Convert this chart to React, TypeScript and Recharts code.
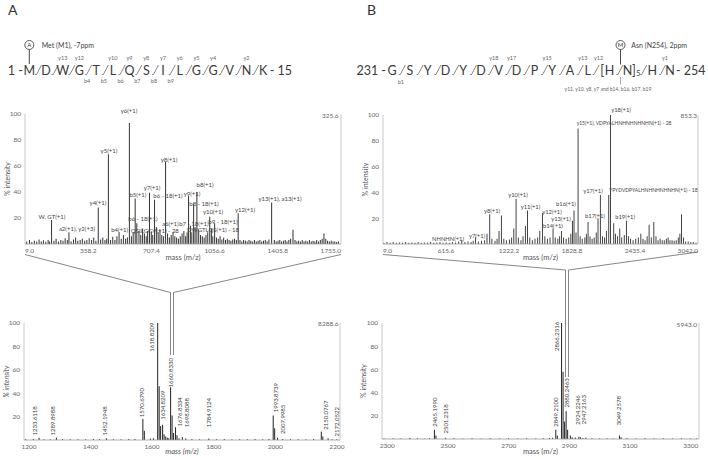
import React from "react";
import {
  ComposedChart,
  Bar,
  XAxis,
  YAxis,
  ReferenceLine,
  ReferenceDot,
} from "recharts";

type Pair = [number, number];
type Tag = [string, number, number];

// ---------- A : MS/MS of 1-MDWGTLQSILGGVNK-15 ----------
const TL_TICKS = [9.0, 358.2, 707.4, 1056.6, 1405.8, 1755.0];
const TL_PEAKS: Pair[] = [
  [157, 18.5], [253, 9], [415, 28], [471, 69], [530, 9], [587, 93],
  [619, 35], [628, 16], [698, 39.5], [726, 34], [787, 63], [914, 37],
  [942, 31], [960, 40], [1031, 21], [1058, 16], [1188, 23.6], [1373, 32],
  [1491, 11], [1662, 8],
];
const TL_NOISE: Pair[] = [
  [20, 2], [35, 3], [48, 1.5], [62, 2.5], [75, 2], [88, 3.5], [100, 2], [112, 2.8],
  [125, 1.8], [138, 3], [146, 2], [170, 2.5], [182, 4], [195, 2], [208, 3], [220, 2.5],
  [232, 4.5], [244, 3], [265, 2], [278, 3.5], [290, 5], [302, 2.5], [315, 3], [327, 4],
  [340, 2.5], [352, 3], [365, 4.5], [378, 3], [390, 5], [402, 2.5], [428, 3.5], [440, 5],
  [452, 3], [462, 4], [483, 3], [495, 5.5], [507, 3], [518, 6], [542, 4], [554, 7],
  [566, 4], [576, 5], [598, 6], [608, 9], [640, 10], [650, 7], [660, 12], [670, 8],
  [680, 6], [688, 10], [708, 9], [716, 7], [736, 13], [746, 9], [756, 11], [766, 7],
  [776, 6], [798, 8], [808, 5], [818, 7], [828, 9], [838, 6], [848, 5], [858, 4],
  [868, 6], [878, 8], [888, 10], [898, 6], [906, 9], [924, 14], [932, 9], [950, 13],
  [970, 11], [980, 7], [990, 6], [1000, 5], [1010, 7], [1020, 9], [1040, 12], [1048, 6],
  [1068, 5], [1078, 4], [1088, 6], [1098, 3.5], [1108, 5], [1118, 3], [1128, 4], [1138, 3],
  [1148, 2.5], [1158, 3.5], [1168, 4], [1178, 3], [1198, 3], [1208, 2], [1218, 3], [1228, 2.5],
  [1238, 2], [1248, 3], [1258, 2.5], [1268, 2], [1278, 3], [1288, 2], [1298, 2.5], [1308, 3],
  [1318, 2], [1328, 2.5], [1338, 3], [1348, 2], [1358, 3.5], [1388, 3], [1398, 2], [1408, 2.5],
  [1418, 3], [1428, 2], [1438, 2.5], [1448, 3], [1458, 2], [1468, 3], [1478, 4], [1502, 3],
  [1512, 2], [1522, 2.5], [1532, 2], [1542, 3], [1552, 2], [1562, 2.5], [1572, 2], [1582, 3],
  [1592, 2], [1602, 2.5], [1612, 2], [1622, 3], [1632, 2], [1642, 3], [1652, 4], [1672, 4],
  [1682, 2.5], [1692, 2], [1702, 2.5], [1712, 2], [1722, 2], [1732, 1.5], [1742, 2],
];
const TL_LABELS: Tag[] = [
  ["y6(+1)", 584, 102.5], ["y5(+1)", 473, 71.8], ["y8(+1)", 805, 64.6],
  ["y7(+1)", 711, 42.8], ["b5(+1)", 633, 37.7], ["b6 - 18(+1)", 799, 36.9],
  ["y9(+1)", 932, 38.5], ["y4(+1)", 412, 31.3], ["W, GT(+1)", 158, 21],
  ["a2(+1), y2(+3)", 296, 11.3], ["b4(+1)", 532, 10.8], ["b6 - 18(+1)", 661, 19.2],
  ["a6(+1)", 812, 15.4], ["b7 - 18(+1)", 942, 15.4], ["QSILGGV(+1) - 28", 727, 10],
  ["DWGTLQS(+1) - 18", 1048, 10.8], ["b8(+1)", 1004, 45.4], ["b8 - 18(+1)", 998, 30.8],
  ["y10(+1)", 1048, 24.4], ["b9 - 18(+1)", 1103, 17.2], ["y12(+1)", 1225, 26.2],
  ["y13(+1), a13(+1)", 1418, 34.6],
];

// ---------- B : MS/MS of 231-GSYDYDVDPYAL[HN]5HN-254 ----------
const TR_TICKS = [9.0, 615.6, 1222.2, 1828.8, 2435.4, 3042.0];
const TR_PEAKS: Pair[] = [
  [770, 3], [902, 5], [1013, 8], [1039, 23], [1129, 10], [1152, 22], [1271, 12],
  [1293, 35], [1383, 14], [1403, 26], [1521, 10], [1547, 24], [1649, 12], [1730, 10],
  [1836, 18], [1851, 26], [1890, 89.5], [1986, 17], [2082, 20], [2105, 38], [2163, 10],
  [2185, 38], [2202, 100], [2233, 16], [2291, 12], [2356, 18], [2494, 8], [2574, 15],
  [2619, 17], [2757, 5], [2886, 23],
];
const TR_NOISE: Pair[] = [
  [20, 1], [50, 1.5], [80, 1], [110, 1.5], [140, 1], [170, 1.2], [200, 1], [230, 1.5],
  [260, 1], [290, 1.2], [320, 1], [350, 1.5], [380, 1], [410, 1.2], [440, 1], [470, 1.5],
  [500, 1], [530, 1.2], [560, 1.5], [590, 1], [620, 1.2], [650, 1], [680, 1.5], [710, 1.2],
  [740, 2], [800, 1.5], [830, 2], [860, 1.5], [880, 2.5], [930, 2], [960, 2.5], [990, 3],
  [1060, 4], [1090, 2.5], [1110, 4], [1175, 4], [1200, 3], [1230, 3.5], [1250, 5], [1315, 5],
  [1340, 3], [1360, 6], [1425, 5], [1450, 3], [1475, 4], [1500, 5], [1570, 6], [1595, 4],
  [1620, 5], [1670, 5], [1695, 4], [1712, 6], [1750, 5], [1775, 4], [1800, 5], [1820, 8],
  [1870, 9], [1910, 6], [1930, 4], [1955, 5], [1970, 8], [2005, 6], [2025, 4], [2045, 5],
  [2065, 9], [2125, 6], [2145, 5], [2250, 8], [2270, 6], [2310, 5], [2335, 7], [2375, 6],
  [2395, 4], [2420, 3], [2445, 4], [2470, 5], [2515, 4], [2535, 3], [2555, 6], [2595, 5],
  [2640, 6], [2660, 3], [2680, 4], [2700, 3], [2720, 3], [2740, 4], [2775, 3], [2795, 3],
  [2815, 2.5], [2835, 3], [2855, 5], [2870, 8], [2905, 5], [2925, 2], [2950, 2], [2975, 1.5],
  [3000, 1.5], [3025, 1],
];
const TR_LABELS: Tag[] = [
  ["NHNHN(+1)", 635, 4.1], ["y7(+1)", 914, 6.4], ["y8(+1)", 1059, 25.8],
  ["y10(+1)", 1309, 37.7], ["y11(+1)", 1429, 28.7], ["y12(+1)", 1636, 24.8],
  ["y13(+1)", 1723, 19.4], ["b14(+1)", 1646, 14.2], ["b16(+1)", 1771, 31],
  ["y15(+1), VDPYALHNHNHNHNHN(+1) - 28", 2330, 93.8], ["y18(+1)", 2301, 104],
  ["y17(+1)", 2031, 40.8], ["YPYDVDPYALHNHNHNHNHN(+1) - 18", 2612, 41.3],
  ["b17(+1)", 2050, 21.4], ["b19(+1)", 2340, 20.6],
];

// ---------- MS survey spectra ----------
const BL_TICKS = [1200, 1400, 1600, 1800, 2000, 2200];
const BL_PEAKS: Pair[] = [
  [1233.6, 2], [1289.9, 2], [1452.2, 1.5], [1570.7, 18], [1575.5, 8], [1618.8, 100],
  [1623.6, 46], [1628.4, 12], [1634.8, 13], [1639.6, 5], [1660.8, 45], [1665.6, 21],
  [1670.4, 6], [1676.8, 11], [1681.6, 4], [1698.8, 2.5], [1784.9, 1.2], [1993.9, 21],
  [1998.7, 10], [2008.0, 2], [2150.1, 7], [2154.9, 3], [2172.1, 1.5],
];
const BL_NOISE: Pair[] = [
  [1190, 0.6], [1215, 0.8], [1250, 0.7], [1270, 0.6], [1310, 0.8], [1335, 0.6], [1360, 0.7],
  [1385, 0.6], [1410, 0.8], [1430, 0.6], [1475, 0.7], [1500, 0.6], [1525, 0.8], [1545, 0.9],
  [1595, 1.2], [1605, 1.5], [1645, 3], [1650, 2], [1655, 1.5], [1688, 1.5], [1710, 1.2],
  [1730, 0.9], [1755, 0.7], [1810, 0.6], [1835, 0.8], [1860, 0.6], [1885, 0.7], [1910, 0.6],
  [1935, 0.8], [1960, 0.7], [1980, 0.9], [2025, 0.8], [2050, 0.6], [2075, 0.7], [2100, 0.6],
  [2125, 0.8], [2185, 0.7], [2200, 0.6],
];
const BL_LABELS: Tag[] = [
  ["1233.6118", 1219.8, 16.4], ["1289.8988", 1277.3, 16.4], ["1452.1948", 1445.1, 16.4],
  ["1570.6790", 1566.8, 32], ["1618.8209", 1599.3, 88], ["1634.8209", 1633.8, 29.8],
  ["1660.8330", 1661.1, 57.5], ["1676.8334", 1691.3, 24.1], ["1698.8088", 1713.1, 23.4],
  ["1784.9124", 1785.6, 23.4], ["1993.8739", 2002.5, 36.2], ["2007.9985", 2024, 17.7],
  ["2150.0767", 2162.9, 21.3], ["2172.0522", 2198.6, 15.6],
];

const BR_TICKS = [2300, 2500, 2700, 2900, 3100, 3300];
const BR_PEAKS: Pair[] = [
  [2375, 0.8], [2456, 8], [2461, 3], [2493, 1], [2856, 8], [2861, 3], [2875, 100],
  [2880, 58], [2885, 15], [2890, 24], [2895, 8], [2904, 3], [2932, 2], [2937, 1.5],
  [2955, 1], [3066, 3], [3071, 1.5],
];
const BR_NOISE: Pair[] = [
  [2290, 0.5], [2320, 0.6], [2345, 0.5], [2400, 0.6], [2425, 0.5], [2440, 0.7], [2520, 0.6],
  [2550, 0.5], [2580, 0.6], [2610, 0.5], [2640, 0.6], [2670, 0.5], [2700, 0.6], [2730, 0.5],
  [2760, 0.6], [2790, 0.5], [2815, 0.7], [2835, 0.8], [2845, 1], [2910, 1.5], [2920, 1.2],
  [2945, 0.8], [2975, 0.6], [3000, 0.5], [3025, 0.6], [3045, 0.5], [3090, 0.6], [3120, 0.5],
  [3150, 0.6], [3180, 0.5], [3210, 0.6], [3240, 0.5], [3270, 0.6], [3300, 0.5], [3320, 0.5],
];
const BR_LABELS: Tag[] = [
  ["2465.1990", 2456.2, 23.1], ["2501.2318", 2494.4, 17.3], ["2849.2100", 2856, 23.1],
  ["2866.2316", 2860.3, 88.4], ["2880.2463", 2893.2, 39.7], ["2924.2246", 2927.5, 25],
  ["2947.2163", 2949.3, 25.3], ["3049.2578", 3064.6, 24.4],
];

// sequences
const SEQ_A = ["M", "D", "W", "G", "T", "L", "Q", "S", "I", "L", "G", "G", "V", "N", "K"];
const Y_IONS_A = [13, 12, 10, 9, 8, 7, 6, 5, 4, 2];
const B_IONS_A = [4, 5, 6, 7, 8, 9];
const SEQ_B = ["G", "S", "Y", "D", "Y", "D", "V", "D", "P", "Y", "A", "L", "H", "N", "H", "N"];
const Y_IONS_B = [18, 17, 15, 13, 12, 1];
const B_IONS_B = [1];

const FONT = "Lato, 'Open Sans', sans-serif";

function merge(...lists: Pair[][]) {
  return lists
    .flat()
    .map(([mz, i]) => ({ mz, i }))
    .sort((a, b) => a.mz - b.mz);
}

function AxisTick(props: any) {
  const { x, y, payload, first, last, digits } = props;
  const v = payload.value as number;
  const anchor = v === first ? "start" : v === last ? "end" : "middle";
  return (
    <text x={x} y={y} dy={4.5} textAnchor={anchor} fontSize={6.5} fill="#666">
      {v.toFixed(digits)}
    </text>
  );
}

interface SpectrumProps {
  left: number;
  top: number;
  width: number;
  height: number;
  margin: { top: number; right: number; bottom: number; left: number };
  xHeight: number;
  domain: [number, number];
  ticks: number[];
  digits: number;
  edge: boolean;
  peaks: Pair[];
  noise: Pair[];
  labels: Tag[];
  labelSize: number;
  vertical?: boolean;
  italic?: boolean;
  yLabelOffset: number;
  xLabelOffset: number;
  color: string;
}

function Spectrum(p: SpectrumProps) {
  const data = merge(p.peaks, p.noise);
  const first = p.edge ? p.ticks[0] : NaN;
  const last = p.edge ? p.ticks[p.ticks.length - 1] : NaN;
  const italic = p.italic ? "italic" : "normal";
  return (
    <div style={{ position: "absolute", left: p.left, top: p.top }}>
      <ComposedChart width={p.width} height={p.height} data={data} margin={p.margin}>
        <XAxis
          dataKey="mz"
          type="number"
          domain={p.domain}
          ticks={p.ticks}
          interval={0}
          height={p.xHeight}
          tickSize={2}
          tickMargin={2}
          tickLine={false}
          axisLine={{ stroke: "#999", strokeWidth: 0.8 }}
          tick={(t: any) => <AxisTick {...t} first={first} last={last} digits={p.digits} />}
          label={{
            value: "mass (m/z)",
            position: "insideBottom",
            offset: p.xLabelOffset,
            fontSize: 7.5,
            fill: "#555",
            style: { fontStyle: italic },
          }}
        />
        <YAxis
          type="number"
          domain={[0, 100]}
          ticks={[20, 40, 60, 80, 100]}
          width={20}
          tickSize={2}
          tickMargin={2}
          tickLine={false}
          axisLine={{ stroke: "#bbb", strokeWidth: 0.8 }}
          tick={{ fontSize: 6.5, fill: "#666" }}
          label={{
            value: "% intensity",
            angle: -90,
            position: "insideLeft",
            offset: p.yLabelOffset,
            fontSize: 7,
            fill: "#555",
            style: { textAnchor: "middle", fontStyle: italic },
          }}
        />
        <ReferenceLine x={p.domain[1]} stroke="#bbb" strokeWidth={0.8} ifOverflow="visible" />
        <Bar dataKey="i" barSize={1} fill={p.color} isAnimationActive={false} />
        {p.labels.map(([text, mz, level], k) => (
          <ReferenceDot
            key={k}
            x={mz}
            y={level}
            r={0}
            fill="none"
            stroke="none"
            ifOverflow="visible"
            label={{
              value: text,
              position: "center",
              angle: p.vertical ? -90 : 0,
              fontSize: text.length > 20 ? p.labelSize - 0.8 : p.labelSize,
              fill: "#444",
            }}
          />
        ))}
      </ComposedChart>
    </div>
  );
}

// sequence layout
const BASE = 74.5;
const LETTER = 12.5;
const xA = (i: number) => 29.3 + i * 16.71;
const slashA = (i: number) => xA(i + 1) - 7;
const xB = (i: number) => 392 + i * 17.8 + (i >= 12 ? 4 : 0) + (i >= 14 ? 7 : 0);
const slashB = (i: number) =>
  i === 11 ? xB(12) - 13 : i === 13 ? xB(14) - 8 : xB(i + 1) - 7;
// y ion k of the 24-residue peptide -> displayed residue before the cut
const cutB = (k: number) => {
  const r = 24 - k;
  return r <= 12 ? r - 1 : r - 9;
};

function Slash({ x }: { x: number }) {
  return (
    <path
      d={`M${x - 4},${BASE} L${x - 2.5},${BASE} L${x + 2.5},${BASE - 9.5}`}
      fill="none"
      stroke="#555"
      strokeWidth={0.7}
    />
  );
}

function Overlay() {
  const letter = { fontSize: LETTER, fill: "#3a3a3a", textAnchor: "middle" as const };
  const ion = { fontSize: 5.5, fill: "#666", textAnchor: "middle" as const };
  const small = { fontSize: 6.5, fill: "#666", textAnchor: "end" as const };
  const conn = { fill: "none", stroke: "#666", strokeWidth: 0.8 };
  return (
    <svg
      width={708}
      height={459}
      style={{ position: "absolute", left: 0, top: 0, pointerEvents: "none" }}
    >
      <text x={8} y={15} fontSize={14} fill="#333">A</text>
      <text x={367} y={15} fontSize={14} fill="#333">B</text>

      {/* A sequence */}
      <circle cx={xA(0)} cy={45} r={4.5} fill="#fff" stroke="#333" strokeWidth={0.8} />
      <text x={xA(0)} y={47.2} fontSize={6} fill="#333" textAnchor="middle">A</text>
      <line x1={xA(0)} y1={49.5} x2={xA(0)} y2={64} stroke="#333" strokeWidth={0.9} />
      <text x={41.7} y={47.5} fontSize={7} fill="#444">Met (M1), -7ppm</text>
      <text x={xA(0) - 6.5} y={BASE} fontSize={LETTER} fill="#3a3a3a" textAnchor="end">1 -</text>
      {SEQ_A.map((r, i) => (
        <text key={i} x={xA(i)} y={BASE} {...letter}>{r}</text>
      ))}
      {SEQ_A.slice(0, -1).map((_, i) => (
        <Slash key={i} x={slashA(i)} />
      ))}
      <text x={xA(SEQ_A.length - 1) + 6.5} y={BASE} fontSize={LETTER} fill="#3a3a3a">- 15</text>
      {Y_IONS_A.map((k) => (
        <text key={k} x={slashA(14 - k) + 7} y={60} {...ion}>{`y${k}`}</text>
      ))}
      {B_IONS_A.map((k) => (
        <text key={k} x={slashA(k - 1) - 2} y={82.5} {...ion}>{`b${k}`}</text>
      ))}

      {/* B sequence */}
      <circle cx={620.5} cy={45} r={4.5} fill="#fff" stroke="#333" strokeWidth={0.8} />
      <text x={620.5} y={47.2} fontSize={6} fill="#333" textAnchor="middle">M</text>
      <line x1={620.5} y1={49.5} x2={620.5} y2={64.5} stroke="#333" strokeWidth={0.9} />
      <text x={631.3} y={47.5} fontSize={7} fill="#444">Asn (N254), 2ppm</text>
      <text x={xB(0) - 6} y={BASE} fontSize={LETTER} fill="#3a3a3a" textAnchor="end">231 -</text>
      {SEQ_B.map((r, i) => (
        <text key={i} x={xB(i)} y={BASE} {...letter}>{r}</text>
      ))}
      <text x={xB(12) - 7.5} y={BASE} {...letter}>[</text>
      <text x={xB(13) + 6.5} y={BASE} {...letter}>]</text>
      <text x={xB(13) + 11} y={BASE + 1.5} fontSize={7} fill="#333" textAnchor="middle">5</text>
      {SEQ_B.slice(0, -1).map((_, i) => (
        <Slash key={i} x={slashB(i)} />
      ))}
      <text x={xB(SEQ_B.length - 1) + 6} y={BASE} fontSize={LETTER} fill="#3a3a3a">- 254</text>
      {Y_IONS_B.map((k) => (
        <text key={k} x={slashB(cutB(k)) + 2} y={60} {...ion}>{`y${k}`}</text>
      ))}
      {B_IONS_B.map((k) => (
        <text key={k} x={slashB(k - 1) - 2} y={83.5} {...ion}>{`b${k}`}</text>
      ))}
      <line x1={620.5} y1={77} x2={620.5} y2={84.5} stroke="#777" strokeWidth={0.6} />
      <text x={608} y={90.5} fontSize={5} fill="#666" textAnchor="middle">
        y11, y10, y8, y7 and b14, b16, b17, b19
      </text>

      {/* base peak intensities */}
      <text x={338.5} y={117.5} {...small}>325.6</text>
      <text x={697} y={118} {...small}>853.3</text>
      <text x={338.5} y={325.5} {...small}>8288.6</text>
      <text x={697} y={326.5} {...small}>5943.0</text>

      {/* zoom connectors */}
      <polyline points="25,254.5 170.5,292.5 170.5,355" {...conn} />
      <polyline points="341,254.5 173.5,292.5 173.5,355" {...conn} />
      <polyline points="383,254.5 565.5,270 565.5,377" {...conn} />
      <polyline points="698,252 568.5,270 568.5,377" {...conn} />
    </svg>
  );
}

export default function App() {
  return (
    <div
      style={{
        position: "absolute",
        left: 0,
        top: 0,
        width: 708,
        height: 459,
        background: "#fff",
        fontFamily: FONT,
        overflow: "hidden",
      }}
    >
      <Spectrum
        left={0}
        top={100}
        width={345}
        height={170}
        margin={{ top: 14, right: 4, bottom: 6, left: 5 }}
        xHeight={20}
        domain={[9, 1755]}
        ticks={TL_TICKS}
        digits={1}
        edge
        peaks={TL_PEAKS}
        noise={TL_NOISE}
        labels={TL_LABELS}
        labelSize={6}
        yLabelOffset={3}
        xLabelOffset={4.5}
        color="#333"
      />
      <Spectrum
        left={354}
        top={100}
        width={350}
        height={170}
        margin={{ top: 15, right: 6, bottom: 6, left: 9 }}
        xHeight={20}
        domain={[9, 3042]}
        ticks={TR_TICKS}
        digits={1}
        edge
        peaks={TR_PEAKS}
        noise={TR_NOISE}
        labels={TR_LABELS}
        labelSize={5.8}
        yLabelOffset={3}
        xLabelOffset={4.5}
        color="#444"
      />
      <Spectrum
        left={0}
        top={300}
        width={345}
        height={159}
        margin={{ top: 23, right: 5, bottom: 0, left: 4 }}
        xHeight={19}
        domain={[1184, 2210]}
        ticks={BL_TICKS}
        digits={0}
        edge={false}
        peaks={BL_PEAKS}
        noise={BL_NOISE}
        labels={BL_LABELS}
        labelSize={6}
        vertical
        italic
        yLabelOffset={3}
        xLabelOffset={4.8}
        color="#222"
      />
      <Spectrum
        left={354}
        top={300}
        width={350}
        height={159}
        margin={{ top: 23, right: 5, bottom: 0, left: 8 }}
        xHeight={20}
        domain={[2282.5, 3327]}
        ticks={BR_TICKS}
        digits={0}
        edge={false}
        peaks={BR_PEAKS}
        noise={BR_NOISE}
        labels={BR_LABELS}
        labelSize={6}
        vertical
        yLabelOffset={2}
        xLabelOffset={4.8}
        color="#222"
      />
      <Overlay />
    </div>
  );
}
